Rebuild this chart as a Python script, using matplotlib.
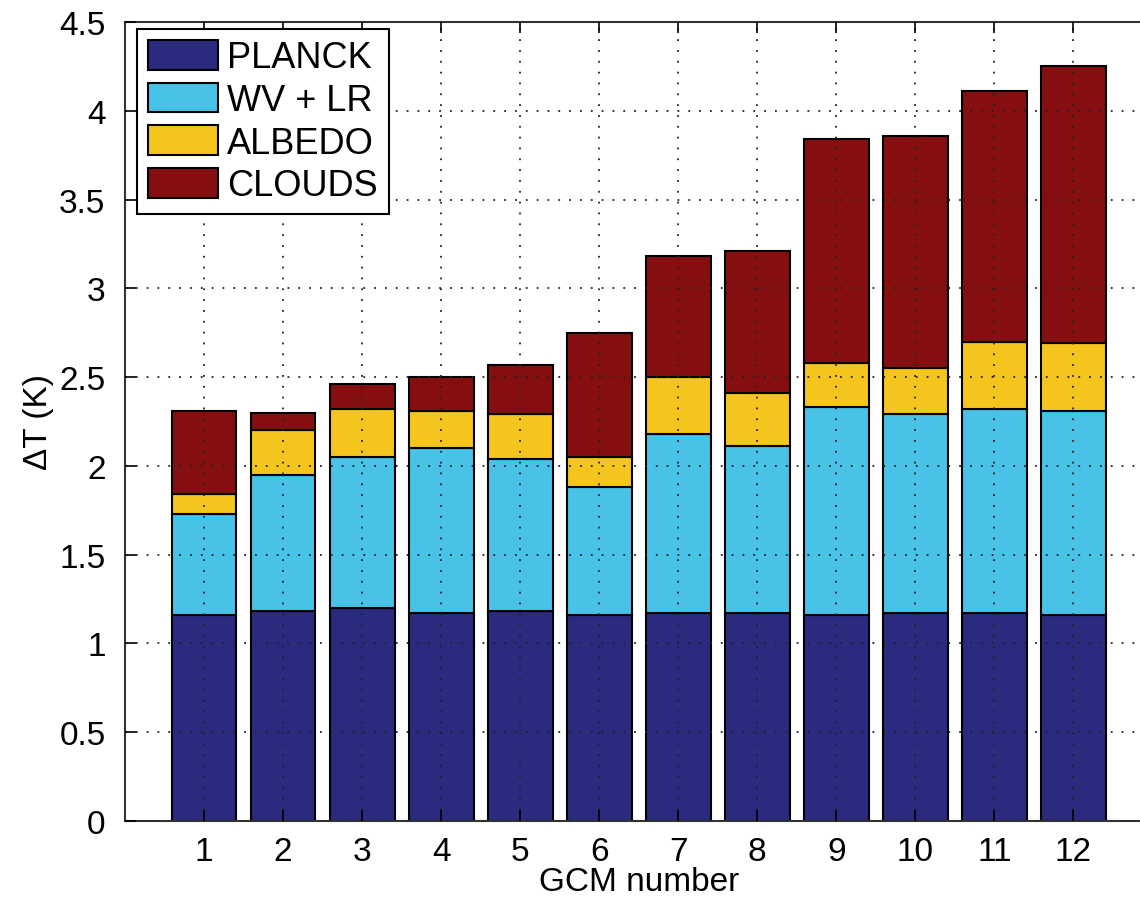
import numpy as np
import matplotlib
matplotlib.use("Agg")
import matplotlib.pyplot as plt

gcm = list(range(1, 13))
planck = [1.16, 1.18, 1.20, 1.17, 1.18, 1.16, 1.17, 1.17, 1.16, 1.17, 1.17, 1.16]
wv_lr = [0.57, 0.77, 0.85, 0.93, 0.86, 0.72, 1.01, 0.94, 1.17, 1.12, 1.15, 1.15]
albedo = [0.11, 0.25, 0.27, 0.21, 0.25, 0.17, 0.32, 0.30, 0.25, 0.26, 0.38, 0.38]
clouds = [0.47, 0.10, 0.14, 0.19, 0.28, 0.70, 0.68, 0.80, 1.26, 1.31, 1.41, 1.56]
series_names = ["PLANCK", "WV + LR", "ALBEDO", "CLOUDS"]
colors = ["#2a2a7e", "#48c2e6", "#f5c51e", "#850f10"]
yticks = [0, 0.5, 1, 1.5, 2, 2.5, 3, 3.5, 4, 4.5]

plt.rcParams["font.family"] = ["Liberation Sans", "DejaVu Sans"]

fig = plt.figure(figsize=(11.4, 9.04), dpi=100)
ax = fig.add_axes([125 / 1140, 82 / 904, 1027.5 / 1140, 799 / 904])

bottom = np.zeros(len(gcm))
for vals, name, col in zip([planck, wv_lr, albedo, clouds], series_names, colors):
    ax.bar(gcm, vals, width=0.82, bottom=bottom, color=col, edgecolor="black",
           linewidth=1.5, label=name, zorder=1)
    bottom += np.array(vals)

ax.set_xlim(0, 13)
ax.set_ylim(0, 4.5)
ax.set_xticks(gcm)
ax.set_yticks(yticks)
ax.set_yticklabels([f"{t:g}" for t in yticks])
ax.set_axisbelow(False)
ax.grid(True, color="#222222", linestyle=(0, (1, 5)), linewidth=1.3, zorder=2)
ax.tick_params(direction="in", length=8, width=1.2, top=True, right=True,
               labelsize=24, pad=11)
ax.tick_params(axis="y", pad=14)
for s in ax.spines.values():
    s.set_linewidth(1.5)
    s.set_color("#333333")

ax.set_xlabel("GCM number", fontsize=24, labelpad=-1)
ax.set_ylabel("ΔT (K)", fontsize=24, labelpad=4)

leg = ax.legend(loc="upper left", bbox_to_anchor=(12 / 1027.5, 1 - 7 / 799),
                borderaxespad=0, fontsize=26, fancybox=False, framealpha=1,
                edgecolor="black", handlelength=1.95, handleheight=0.9,
                handletextpad=0.25, labelspacing=0.2, borderpad=0.3)
leg.get_frame().set_linewidth(1.5)
for p in leg.get_patches():
    p.set_linewidth(1.5)

fig.savefig("out.png", dpi=100)
